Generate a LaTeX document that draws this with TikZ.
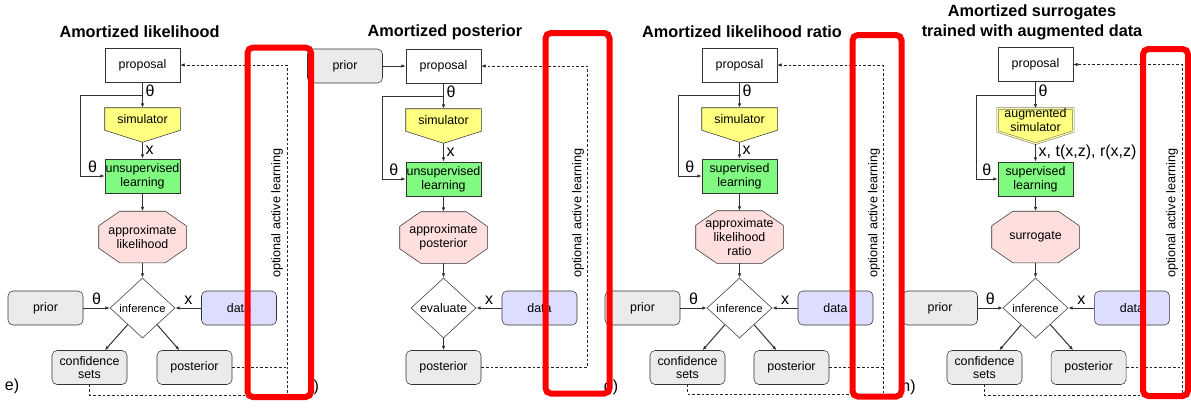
\documentclass[tikz,border=0pt]{standalone}
\usepackage{fontspec}
\setmainfont{Liberation Sans}
\usepackage{tikz}
\usetikzlibrary{arrows.meta,positioning,shapes.geometric,calc,backgrounds}
\definecolor{edgegrey}{RGB}{51,51,51}
\definecolor{simyellow}{RGB}{255,255,128}
\definecolor{learngreen}{RGB}{128,250,128}
\definecolor{octpink}{RGB}{255,222,222}
\definecolor{boxgrey}{RGB}{235,235,235}
\definecolor{datablue}{RGB}{221,221,255}
\newcommand{\boxfont}{\fontsize{9.3}{10.2}\selectfont}
\newcommand{\inffont}{\fontsize{8.4}{10}\selectfont}
\newcommand{\labfont}{\fontsize{12}{14}\selectfont}
\newcommand{\titlefont}{\fontsize{12.2}{15}\selectfont\bfseries}
% outline of a simulator node: box with a point at the bottom
\newcommand{\simoutline}[2]{%
  \begin{scope}[on background layer]
    \draw[#2] (#1.north west) -- (#1.north east) -- (#1.south east)
      -- ([yshift=-9pt]#1.south) -- (#1.south west) -- cycle;
  \end{scope}
  \coordinate (#1tip) at ([yshift=-9pt]#1.south);}
% outline of an octagon node
\newcommand{\octoutline}[1]{%
  \begin{scope}[on background layer]
    \draw[octpath] ([xshift=15.75pt]#1.north west) -- ([xshift=-15.75pt]#1.north east)
      -- ([yshift=-10.9pt]#1.north east) -- ([yshift=10.9pt]#1.south east)
      -- ([xshift=-15.75pt]#1.south east) -- ([xshift=15.75pt]#1.south west)
      -- ([yshift=10.9pt]#1.south west) -- ([yshift=-10.9pt]#1.north west) -- cycle;
  \end{scope}}
\tikzset{
  propbox/.style={draw=edgegrey, fill=white, minimum width=56.25pt, minimum height=25.5pt, inner sep=0pt, align=center, font=\boxfont},
  simbox/.style={minimum width=56.25pt, minimum height=16.5pt, inner sep=0pt, align=center, font=\boxfont},
  simpath/.style={draw=edgegrey, fill=simyellow},
  augsimpath/.style={draw=black!55, double=simyellow!70!white, double distance=0.9pt, fill=simyellow},
  learnbox/.style={draw=edgegrey, fill=learngreen, minimum width=56.25pt, minimum height=25.5pt, inner sep=0pt, align=center, font=\boxfont},
  octbox/.style={minimum width=65.25pt, minimum height=38.25pt, inner sep=0pt, align=center, font=\fontsize{9.3}{10.6}\selectfont},
  octpath/.style={draw=edgegrey, fill=octpink},
  decbox/.style={draw=edgegrey, fill=white, diamond, minimum width=48.75pt, minimum height=45pt, inner sep=0pt, font=\inffont},
  greybox/.style={draw=edgegrey, fill=boxgrey, rounded corners=3.75pt, minimum width=56.25pt, minimum height=25.5pt, inner sep=0pt, align=center, font=\boxfont},
  databox/.style={greybox, fill=datablue},
  lab/.style={font=\labfont, inner sep=2pt},
  titlenode/.style={font=\titlefont, align=center},
  altext/.style={rotate=90, font=\fontsize{9.5}{11}\selectfont},
  panlab/.style={font=\labfont},
  arrow/.style={-{Latex[length=3.2pt,width=2.6pt]}, draw=edgegrey, line width=0.75pt},
  dashline/.style={draw=black!85, line width=0.6pt, dash pattern=on 2pt off 1.5pt},
  dasharrow/.style={dashline, -{Latex[length=3.2pt,width=2.6pt]}},
  redframe/.style={draw=red, line width=4.5pt, rounded corners=4pt}
}
\begin{document}
\begin{tikzpicture}[x=0.75pt,y=-0.75pt]
  \useasboundingbox (0,0) rectangle (1191,408);
  % e) amortized likelihood
  \begin{scope}[shift={(142.5,0)}]
    \node[titlenode] (title1) at (-3,32) {Amortized likelihood};
    \node[propbox] (prop1) at (0,65) {proposal};
    \node[simbox] (sim1) at (0,119) {simulator};
    \simoutline{sim1}{simpath}
    \node[learnbox] (learn1) at (0,176) {unsupervised\\learning};
    \node[octbox] (oct1) at (0,237) {approximate\\likelihood};
    \octoutline{oct1}
    \node[decbox] (inf1) at (0,308) {inference};
    \node[greybox] (prior1) at (-97,308) {prior};
    \node[databox] (data1) at (96.5,308) {data};
    \node[greybox] (conf1) at (-53,367.5) {confidence\\sets};
    \node[greybox] (post1) at (52,367.5) {posterior};
    \node[altext] (alt1) at (134.5,213) {optional active learning};
    \coordinate (split1) at (0,95);
    \coordinate (bot1) at (144.5,395);
    \draw[arrow] (prop1) -- node[lab, right, pos=0.35] {θ} (sim1);
    \draw[arrow] (split1) -- ++(-62,0) |- node[lab, above, pos=0.75] {θ} (learn1.west);
    \draw[arrow] (sim1tip) -- node[lab, right] {x} (learn1);
    \draw[arrow] (learn1) -- (oct1);
    \draw[arrow] (oct1) -- (inf1);
    \draw[arrow] (prior1) -- node[lab, above] {θ} (inf1);
    \draw[arrow] (data1) -- node[lab, above] {x} (inf1);
    \draw[arrow] (inf1) -- (conf1);
    \draw[arrow] (inf1) -- (post1);
    \draw[dasharrow] (conf1.south) |- (bot1) -- (prop1.east -| bot1) -- (prop1.east);
    \draw[dashline] (post1.east) -- (post1.east -| bot1);
  \end{scope}
  % f) amortized posterior
  \begin{scope}[shift={(443.5,0)}]
    \node[titlenode] (title2) at (1.5,32) {Amortized posterior};
    \node[propbox] (prop2) at (0,66) {proposal};
    \node[greybox] (prior2) at (-98.5,66) {prior};
    \node[simbox] (sim2) at (0,120) {simulator};
    \simoutline{sim2}{simpath}
    \node[learnbox] (learn2) at (0,179) {unsupervised\\learning};
    \node[octbox] (oct2) at (0,237.5) {approximate\\posterior};
    \octoutline{oct2}
    \node[decbox, font=\boxfont] (eval2) at (0,308) {evaluate};
    \node[databox] (data2) at (96,308) {data};
    \node[greybox] (post2) at (0,367.5) {posterior};
    \node[altext] (alt2) at (134.5,213) {optional active learning};
    \coordinate (split2) at (0,96);
    \coordinate (turn2) at (143.5,0);
    \draw[arrow] (prior2) -- (prop2);
    \draw[arrow] (prop2) -- node[lab, right, pos=0.35] {θ} (sim2);
    \draw[arrow] (split2) -- ++(-61.5,0) |- node[lab, above, pos=0.75] {θ} (learn2.west);
    \draw[arrow] (sim2tip) -- node[lab, right] {x} (learn2);
    \draw[arrow] (learn2) -- (oct2);
    \draw[arrow] (oct2) -- (eval2);
    \draw[arrow] (data2) -- node[lab, above] {x} (eval2);
    \draw[arrow] (eval2) -- (post2);
    \draw[dasharrow] (post2.east) -| (prop2.east -| turn2) -- (prop2.east);
  \end{scope}
  % g) amortized likelihood ratio
  \begin{scope}[shift={(739.5,0)}]
    \node[titlenode] (title3) at (2.5,32) {Amortized likelihood ratio};
    \node[propbox] (prop3) at (0,65) {proposal};
    \node[simbox] (sim3) at (0,119) {simulator};
    \simoutline{sim3}{simpath}
    \node[learnbox] (learn3) at (0,176) {supervised\\learning};
    \node[octbox, minimum height=39pt] (oct3) at (0,237) {approximate\\likelihood\\ratio};
    \octoutline{oct3}
    \node[decbox] (inf3) at (0,308) {inference};
    \node[greybox] (prior3) at (-97,308) {prior};
    \node[databox] (data3) at (96,308) {data};
    \node[greybox] (conf3) at (-52,367.5) {confidence\\sets};
    \node[greybox] (post3) at (52,367.5) {posterior};
    \node[altext] (alt3) at (134.5,213) {optional active learning};
    \coordinate (split3) at (0,95);
    \coordinate (bot3) at (143.5,394);
    \draw[arrow] (prop3) -- node[lab, right, pos=0.35] {θ} (sim3);
    \draw[arrow] (split3) -- ++(-61.5,0) |- node[lab, above, pos=0.75] {θ} (learn3.west);
    \draw[arrow] (sim3tip) -- node[lab, right] {x} (learn3);
    \draw[arrow] (learn3) -- (oct3);
    \draw[arrow] (oct3) -- (inf3);
    \draw[arrow] (prior3) -- node[lab, above] {θ} (inf3);
    \draw[arrow] (data3) -- node[lab, above] {x} (inf3);
    \draw[arrow] (inf3) -- (conf3);
    \draw[arrow] (inf3) -- (post3);
    \draw[dasharrow] (conf3.south) |- (bot3) -- (prop3.east -| bot3) -- (prop3.east);
    \draw[dashline] (post3.east) -- (post3.east -| bot3);
  \end{scope}
  % h) amortized surrogates
  \begin{scope}[shift={(1035.5,0)}]
    \node[titlenode] (title4) at (-3.5,22) {Amortized surrogates\\trained with augmented data};
    \node[propbox] (prop4) at (0,64.5) {proposal};
    \node[simbox] (sim4) at (0,120) {augmented\\simulator};
    \simoutline{sim4}{augsimpath}
    \node[learnbox] (learn4) at (0,179) {supervised\\learning};
    \node[octbox] (oct4) at (0,237) {surrogate};
    \octoutline{oct4}
    \node[decbox] (inf4) at (0,308) {inference};
    \node[greybox] (prior4) at (-95.5,308) {prior};
    \node[databox] (data4) at (96.5,308) {data};
    \node[greybox] (conf4) at (-51,367.5) {confidence\\sets};
    \node[greybox] (post4) at (53,367.5) {posterior};
    \node[altext] (alt4) at (136.5,213) {optional active learning};
    \coordinate (split4) at (0,95);
    \coordinate (bot4) at (146.5,395);
    \draw[arrow] (prop4) -- node[lab, right, pos=0.35] {θ} (sim4);
    \draw[arrow] (split4) -- ++(-59.5,0) |- node[lab, above, pos=0.75] {θ} (learn4.west);
    \draw[arrow] (sim4tip) -- node[lab, right] {x, t(x,z), r(x,z)} (learn4);
    \draw[arrow] (learn4) -- (oct4);
    \draw[arrow] (oct4) -- (inf4);
    \draw[arrow] (prior4) -- node[lab, above] {θ} (inf4);
    \draw[arrow] (data4) -- node[lab, above] {x} (inf4);
    \draw[arrow] (inf4) -- (conf4);
    \draw[arrow] (inf4) -- (post4);
    \draw[dasharrow] (conf4.south) |- (bot4) -- (prop4.east -| bot4) -- (prop4.east);
    \draw[dashline] (post4.east) -- (post4.east -| bot4);
  \end{scope}
  % panel labels
  \node[panlab] (pan1) at (12,386) {e)};
  \node[panlab] (pan2) at (314,387) {f)};
  \node[panlab] (pan3) at (611,387) {g)};
  \node[panlab] (pan4) at (908.5,387) {h)};
  % red frames on top
  \draw[redframe] (247.5,47.5) rectangle (311,397);
  \draw[redframe] (545.5,33) rectangle (609.5,393.5);
  \draw[redframe] (852.5,35) rectangle (901.5,396.5);
  \draw[redframe] (1143,49) rectangle (1188,396);
\end{tikzpicture}
\end{document}
